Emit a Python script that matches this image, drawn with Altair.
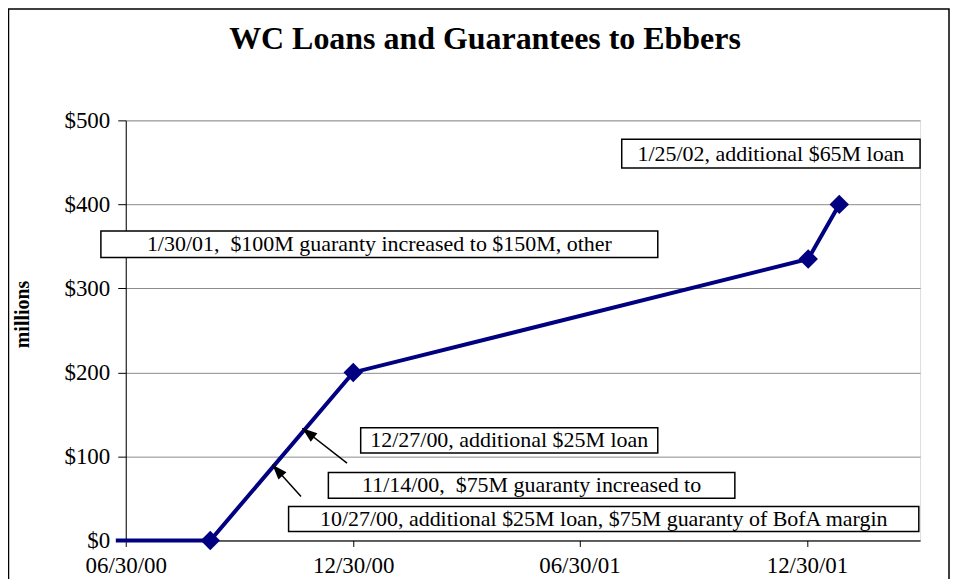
import altair as alt
import pandas as pd

# ---- series ----
dates = ["2000-06-22", "2000-09-06", "2000-12-30", "2001-12-31", "2002-01-25"]
values = [0, 0, 200, 335, 400]
has_marker = [False, True, True, True, True]

# ---- axes ----
y_ticks = [0, 100, 200, 300, 400, 500]
x_ticks = ["2000-06-30", "2000-12-30", "2001-06-30", "2001-12-30"]
x_domain = ["2000-06-30", "2002-03-31"]

title_text = "WC Loans and Guarantees to Ebbers"
y_title = "millions"

# ---- annotation boxes ----
NB = "\u00a0"
note_texts = [
    "12/27/00, additional $25M loan",
    "11/14/00," + NB + " $75M guaranty increased to",
    "10/27/00, additional $25M loan, $75M guaranty of BofA margin",
    "1/30/01," + NB + " $100M guaranty increased to $150M, other",
    "1/25/02, additional $65M loan",
]
note_start = ["2001-01-05", "2000-12-10", "2000-11-08", "2000-06-10", "2001-08-03"]
note_end = ["2001-09-01", "2001-11-02", "2002-03-30", "2001-09-01", "2002-03-31"]
note_low = [104.0, 50.4, 10.7, 336.8, 443.3]
note_high = [134.3, 80.8, 40.4, 368.4, 477.4]

# ---- arrows ----
arrow_tail_date = ["2000-11-18", "2000-12-25"]
arrow_tail_val = [52.3, 92.0]
arrow_tip_date = ["2000-10-26", "2000-11-19"]
arrow_tip_val = [90.0, 133.6]
arrow_angle = [318, 308]


def dt(s):
    y, m, d = map(int, s.split("-"))
    return alt.DateTime(year=y, month=m, date=d, utc=True)


FONT = "Liberation Serif"
NAVY = "#000080"

series = pd.DataFrame({"date": dates, "value": values, "marker": has_marker})
markers = series[series["marker"]]

s = pd.to_datetime(pd.Series(note_start))
e = pd.to_datetime(pd.Series(note_end))
mid = (s + (e - s) / 2).dt.strftime("%Y-%m-%dT%H:%M:%SZ")
notes = pd.DataFrame({
    "text": note_texts,
    "x": note_start,
    "x2": note_end,
    "y": note_low,
    "y2": note_high,
    "xm": list(mid),
    "ym": [(a + b) / 2 for a, b in zip(note_low, note_high)],
})

arrows = pd.DataFrame({
    "x": arrow_tail_date, "y": arrow_tail_val,
    "x2": arrow_tip_date, "y2": arrow_tip_val,
    "angle": arrow_angle,
})

xscale = alt.Scale(type="utc", domain=[dt(x_domain[0]), dt(x_domain[1])])
yscale = alt.Scale(domain=[0, 500], nice=False)

x_axis = alt.Axis(
    values=[dt(v) for v in x_ticks], format="%m/%d/%y", grid=False,
    domainColor="black", tickColor="black", tickSize=6, labelPadding=8,
    labelFlush=False, labelOverlap=False,
    labelFont=FONT, labelFontSize=23, labelColor="black", title=None,
)
y_axis = alt.Axis(
    values=y_ticks, labelExpr="'$' + datum.value", grid=True,
    gridColor="#8c8c8c", gridWidth=1, domainColor="black", tickColor="black",
    tickSize=8, labelPadding=8, labelFont=FONT, labelFontSize=23, labelColor="black",
    labelFlush=False,
    title=y_title, titleFont=FONT, titleFontSize=20, titleFontWeight="bold",
    titleColor="black", titleAngle=270, titleX=-103, titleY=194,
    titleAlign="center", titleBaseline="middle",
)

base_x = alt.X("date:T", scale=xscale, axis=x_axis)
base_y = alt.Y("value:Q", scale=yscale, axis=y_axis)

line = alt.Chart(series).mark_line(color=NAVY, strokeWidth=4).encode(x=base_x, y=base_y)
pts = alt.Chart(markers).mark_point(
    shape="diamond", filled=True, size=380, color=NAVY, opacity=1
).encode(x="date:T", y="value:Q")

shafts = alt.Chart(arrows).mark_rule(color="black", strokeWidth=1.5).encode(
    x=alt.X("x:T"), y=alt.Y("y:Q"), x2="x2:T", y2="y2:Q"
)
heads = alt.Chart(arrows).mark_point(
    shape="M0,0L-0.36,1L0.36,1Z", filled=True, size=900, color="black", opacity=1
).encode(x=alt.X("x2:T"), y=alt.Y("y2:Q"), angle=alt.Angle("angle:Q", scale=None))

boxes = alt.Chart(notes).mark_rect(
    fill="white", stroke="black", strokeWidth=1.5
).encode(x=alt.X("x:T"), x2="x2:T", y=alt.Y("y:Q"), y2="y2:Q")
labels = alt.Chart(notes).mark_text(
    font=FONT, fontSize=22, color="black", align="center", baseline="middle"
).encode(x=alt.X("xm:T"), y=alt.Y("ym:Q"), text="text:N")

frame = alt.Chart(pd.DataFrame({"k": [0]})).mark_rect(
    filled=False, stroke="black", strokeWidth=1.5
).encode(
    x=alt.value(-117.5), x2=alt.value(825), y=alt.value(-111.5), y2=alt.value(480)
)

title = alt.Chart(pd.DataFrame({"t": [title_text]})).mark_text(
    font=FONT, fontSize=32, fontWeight="bold", color="black",
    align="center", baseline="alphabetic"
).encode(x=alt.value(360), y=alt.value(-72), text="t:N")

chart = alt.layer(frame, title, line, pts, shafts, heads, boxes, labels).properties(
    width=796,
    height=421,
    autosize=alt.AutoSizeParams(type="none"),
    padding={"left": 118, "top": 112, "right": 30, "bottom": 38},
).configure_view(stroke="#8c8c8c", strokeWidth=1).configure(background="white")

chart.save("out.html", embed_options={"renderer": "svg", "actions": False})
